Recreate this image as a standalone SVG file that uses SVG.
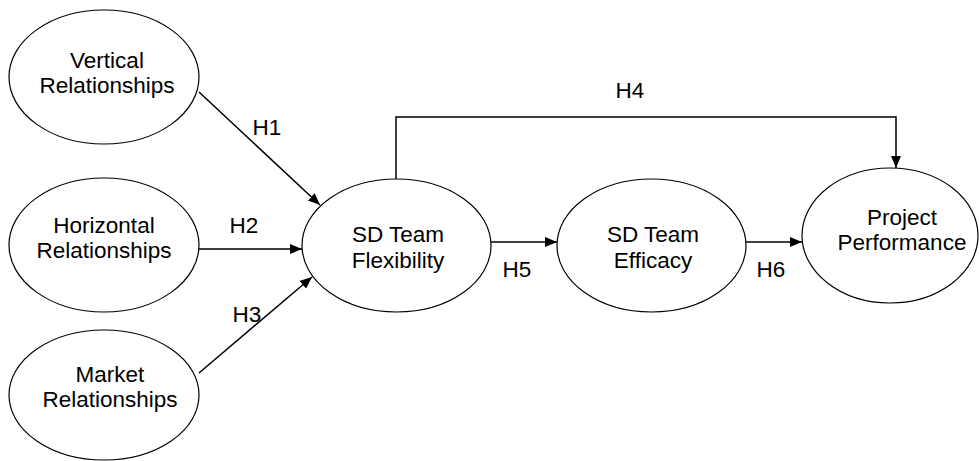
<svg xmlns="http://www.w3.org/2000/svg" width="979" height="461" viewBox="0 0 979 461">
<style>
.n{fill:#fff;stroke:#000;stroke-width:1.2}
.t{font-family:"Liberation Sans",Arial,sans-serif;font-size:22.5px;fill:#000;text-anchor:middle}
.c{fill:none;stroke:#000;stroke-width:1.5}
</style>
<defs>
<marker id="a" markerUnits="userSpaceOnUse" markerWidth="13" markerHeight="10" refX="12" refY="5" orient="auto">
<path d="M0,0 L12,5 L0,10 z" fill="#000"/>
</marker>
</defs>
<rect width="979" height="461" fill="#fff"/>
<g id="connectors">
<line class="c" x1="199" y1="92" x2="320" y2="205" marker-end="url(#a)"/>
<line class="c" x1="199" y1="249" x2="302" y2="249" marker-end="url(#a)"/>
<line class="c" x1="199" y1="373" x2="312" y2="277" marker-end="url(#a)"/>
<polyline class="c" points="396,179 396,117 896,117 896,168" marker-end="url(#a)"/>
<line class="c" x1="491" y1="242" x2="557" y2="242" marker-end="url(#a)"/>
<line class="c" x1="746" y1="242" x2="802" y2="242" marker-end="url(#a)"/>
<text class="t" x="267" y="135">H1</text>
<text class="t" x="244" y="233">H2</text>
<text class="t" x="247" y="322">H3</text>
<text class="t" x="630" y="98">H4</text>
<text class="t" x="517" y="277">H5</text>
<text class="t" x="771" y="277">H6</text>
</g>
<g id="vertical">
<ellipse class="n" cx="104" cy="77" rx="95" ry="67"/>
<text class="t" x="107" y="68">Vertical</text>
<text class="t" x="107" y="93">Relationships</text>
</g>
<g id="horizontal">
<ellipse class="n" cx="104" cy="245" rx="95" ry="67"/>
<text class="t" x="104" y="233">Horizontal</text>
<text class="t" x="104" y="258">Relationships</text>
</g>
<g id="market">
<ellipse class="n" cx="104" cy="395" rx="95" ry="65"/>
<text class="t" x="110" y="382">Market</text>
<text class="t" x="110" y="407">Relationships</text>
</g>
<g id="flexibility">
<ellipse class="n" cx="396.5" cy="245.5" rx="94.5" ry="66.5"/>
<text class="t" x="398" y="242">SD Team</text>
<text class="t" x="398" y="268">Flexibility</text>
</g>
<g id="efficacy">
<ellipse class="n" cx="651.5" cy="245.5" rx="94.5" ry="66.5"/>
<text class="t" x="653" y="242">SD Team</text>
<text class="t" x="653" y="268">Efficacy</text>
</g>
<g id="performance">
<ellipse class="n" cx="890" cy="235.5" rx="88" ry="67.5"/>
<text class="t" x="902" y="225">Project</text>
<text class="t" x="902" y="250">Performance</text>
</g>
</svg>
